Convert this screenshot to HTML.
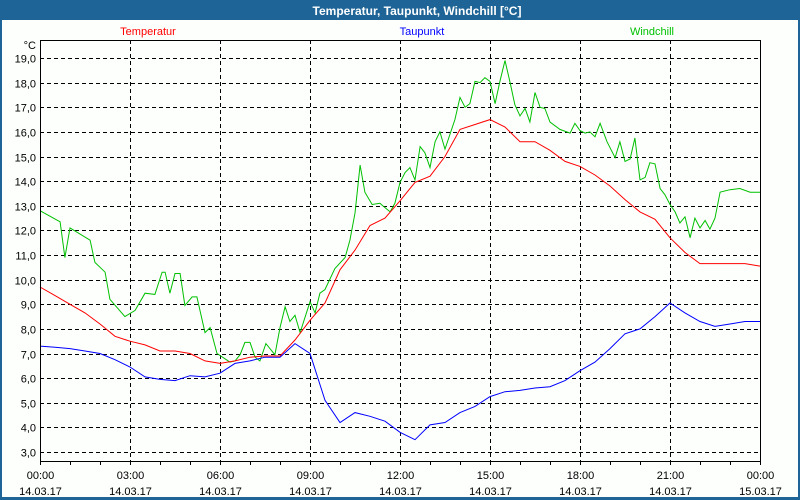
<!DOCTYPE html>
<html><head><meta charset="utf-8"><style>
html,body{margin:0;padding:0;background:#fff;}
svg{display:block;font-family:"Liberation Sans","DejaVu Sans",sans-serif;}
</style></head><body>
<svg id="chart" width="800" height="500" viewBox="0 0 800 500">
<rect x="0" y="0" width="800" height="500" fill="#1e6496"/>
<rect x="2" y="20" width="796" height="477" fill="#fdfffd"/>
<text x="417" y="15" fill="#fff" font-size="12" font-weight="bold" text-anchor="middle">Temperatur, Taupunkt, Windchill [°C]</text>
<text x="148" y="35" fill="#ff0000" font-size="11" text-anchor="middle">Temperatur</text>
<text x="422" y="35" fill="#0000ff" font-size="11" text-anchor="middle">Taupunkt</text>
<text x="652" y="35" fill="#00c000" font-size="11" text-anchor="middle">Windchill</text>
<text x="36" y="49" font-size="11" text-anchor="end">°C</text>
<g id="grid"></g>
<g id="series"></g>
<g id="axes"></g>
</svg>
<script>
const yTicks = [19,18,17,16,15,14,13,12,11,10,9,8,7,6,5,4,3];
const xTickHours = [0,3,6,9,12,15,18,21,24];
const xTimeLabels = ["00:00","03:00","06:00","09:00","12:00","15:00","18:00","21:00","00:00"];
const xDateLabels = ["14.03.17","14.03.17","14.03.17","14.03.17","14.03.17","14.03.17","14.03.17","14.03.17","15.03.17"];

const halfHours = [0,0.5,1,1.5,2,2.5,3,3.5,4,4.5,5,5.5,6,6.5,7,7.5,8,8.5,9,9.5,10,10.5,11,11.5,12,12.5,13,13.5,14,14.5,15,15.5,16,16.5,17,17.5,18,18.5,19,19.5,20,20.5,21,21.5,22,22.5,23,23.5,24];
const tempValues = [9.7,9.35,9.0,8.65,8.2,7.7,7.5,7.35,7.1,7.1,7.0,6.7,6.6,6.7,6.85,6.9,6.9,7.55,8.35,9.05,10.4,11.2,12.2,12.5,13.2,13.95,14.2,15.0,16.1,16.3,16.5,16.2,15.6,15.6,15.25,14.8,14.6,14.25,13.8,13.25,12.75,12.45,11.7,11.1,10.65,10.65,10.65,10.65,10.55];
const dewValues = [7.3,7.25,7.2,7.1,7.0,6.75,6.45,6.05,5.95,5.9,6.1,6.05,6.2,6.6,6.7,6.85,6.85,7.4,7.0,5.1,4.2,4.6,4.45,4.25,3.8,3.5,4.1,4.2,4.6,4.85,5.25,5.45,5.5,5.6,5.65,5.9,6.3,6.65,7.2,7.8,8.0,8.5,9.05,8.65,8.3,8.1,8.2,8.3,8.3];

const windHours = [0,0.67,0.83,1,1.67,1.83,2.17,2.33,2.83,3.17,3.5,3.83,4.07,4.17,4.33,4.5,4.67,4.83,5.07,5.23,5.5,5.67,5.9,6.33,6.5,6.67,6.83,7,7.17,7.33,7.53,7.83,8,8.17,8.33,8.5,8.67,9,9.17,9.33,9.5,9.83,10.17,10.33,10.5,10.67,10.83,11.07,11.33,11.67,11.83,12,12.17,12.33,12.5,12.67,12.83,13,13.17,13.33,13.5,13.83,14,14.17,14.33,14.5,14.67,14.83,15,15.17,15.33,15.5,15.67,15.83,16,16.17,16.33,16.5,16.67,16.83,17,17.33,17.67,17.83,18,18.17,18.33,18.5,18.67,18.9,19.17,19.33,19.5,19.67,19.83,20,20.17,20.33,20.5,20.67,20.83,21,21.17,21.33,21.5,21.67,21.83,22,22.17,22.33,22.5,22.67,23,23.33,23.67,24];
const windValues = [12.8,12.35,10.9,12.1,11.6,10.7,10.3,9.2,8.5,8.75,9.45,9.4,10.3,10.3,9.45,10.25,10.25,8.95,9.3,9.3,7.85,8.05,7.0,6.65,6.7,6.95,7.45,7.45,6.85,6.7,7.4,6.95,8.05,8.9,8.3,8.55,7.85,9.1,8.65,9.45,9.6,10.45,10.9,11.6,12.7,14.65,13.55,13.05,13.1,12.75,13.1,13.95,14.35,14.55,14.05,15.4,15.15,14.55,15.6,16.0,15.3,16.5,17.4,17.0,17.15,18.05,18.0,18.2,18.05,17.15,18.05,18.9,18.0,17.1,16.65,16.95,16.4,17.6,17.0,16.95,16.4,16.1,15.95,16.35,16.05,15.95,16.0,15.8,16.35,15.6,14.95,15.6,14.8,14.9,15.75,14.05,14.15,14.75,14.7,13.7,13.45,13.05,12.75,12.3,12.55,11.7,12.5,12.1,12.4,12.05,12.5,13.55,13.65,13.7,13.55,13.55];

const L=40,R=760,T=40,B=461;
function xs(h){return L+(R-L)*h/24;}
function ys(v){return 58+(19-v)*24.625;}
const NS="http://www.w3.org/2000/svg";
function mk(tag,attrs,parent){const e=document.createElementNS(NS,tag);for(const k in attrs)e.setAttribute(k,attrs[k]);parent.appendChild(e);return e;}
const grid=document.getElementById('grid'),series=document.getElementById('series'),axes=document.getElementById('axes');

yTicks.forEach(v=>{
  const y=Math.round(ys(v))+0.5;
  const g=mk('line',{x1:L,x2:R,y1:y,y2:y,stroke:'#000','stroke-dasharray':'4,3','stroke-width':1},grid);
  
  
  const t=mk('text',{x:36,y:y+4,'font-size':11,'text-anchor':'end'},axes);
  t.textContent=v.toFixed(1).replace('.',',');
  
  
});
xTickHours.forEach((h,i)=>{
  const x=Math.round(xs(h))+0.5;
  if(h>0&&h<24){
    const g=mk('line',{x1:x,x2:x,y1:T,y2:B,stroke:'#000','stroke-dasharray':'4,3','stroke-width':1},grid);
    
    
  }
  const t1=mk('text',{x:x,y:479,'font-size':11,'text-anchor':'middle'},axes);
  t1.textContent=xTimeLabels[i];
  
  
  const t2=mk('text',{x:x,y:495,'font-size':11,'text-anchor':'middle'},axes);
  t2.textContent=xDateLabels[i];
  
  
});
for(let h=0;h<=24;h++){
  const x=Math.round(xs(h))+0.5;
  const tk=mk('line',{x1:x,x2:x,y1:B,y2:B+4,stroke:'#000'},axes);
  
  
}
const frame=mk('rect',{x:L+0.5,y:T+0.5,width:R-L,height:B-T,fill:'none',stroke:'#000','stroke-width':1},axes);



function line(hs,vs,color,name){
  const pts=hs.map((h,i)=>xs(h).toFixed(1)+','+ys(vs[i]).toFixed(1)).join(' ');
  const p=mk('polyline',{points:pts,fill:'none',stroke:color,'stroke-width':1},series);
  
  
}
line(windHours,windValues,'#00c000','windchill-line');
line(halfHours,tempValues,'#ff0000','temperatur-line');
line(halfHours,dewValues,'#0000ff','taupunkt-line');
</script>
</body></html>
